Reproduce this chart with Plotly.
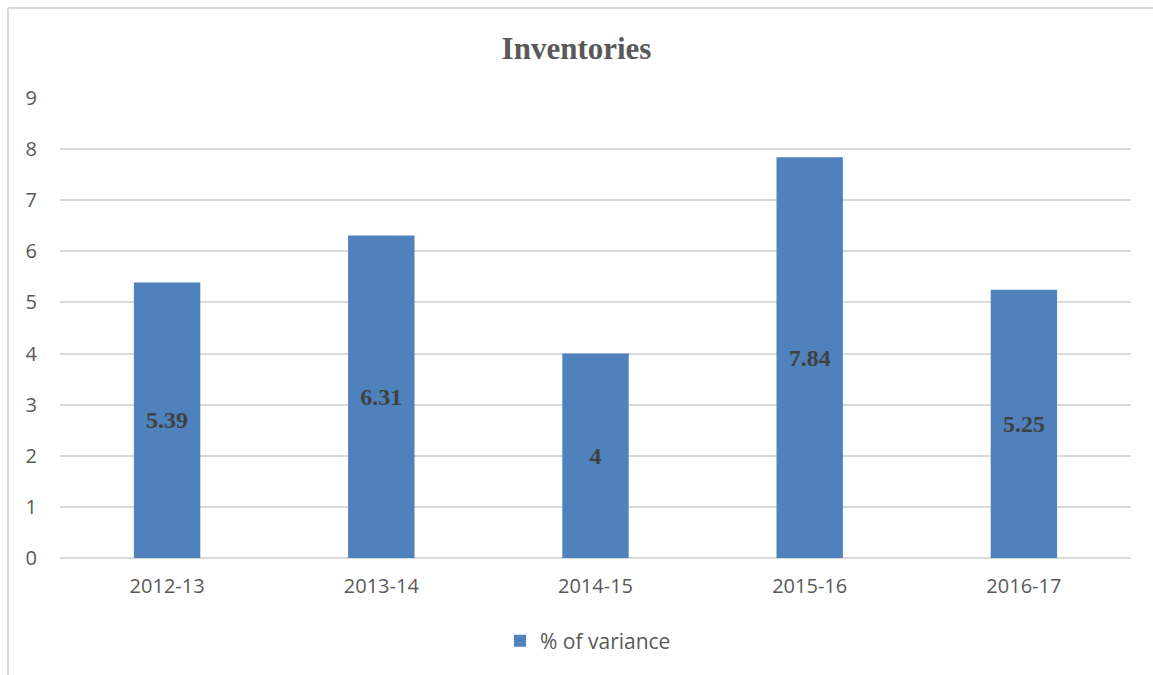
import plotly.graph_objects as go

years = ["2012-13", "2013-14", "2014-15", "2015-16", "2016-17"]
variance = [5.39, 6.31, 4, 7.84, 5.25]
y_ticks = [0, 1, 2, 3, 4, 5, 6, 7, 8, 9]

W, H = 1153, 675
L, R, T, B = 60, 22, 98, 117
pw, ph = W - L - R, H - T - B

def px_x(x):
    return (x - L) / pw

def px_y(y):
    return (H - B - y) / ph

fig = go.Figure()
fig.add_trace(go.Bar(
    x=years, y=variance, name="% of variance",
    marker=dict(color="#4F81BD", line=dict(width=0)),
    text=[f"{v:g}" for v in variance],
    textposition="inside", insidetextanchor="middle",
    textfont=dict(family="Liberation Serif", size=24, color="#404040"),
    texttemplate="<b>%{text}</b>",
    textangle=0,
))

grey = "#D9D9D9"
tick_font = dict(family="Open Sans", size=20, color="#595959")
fig.update_layout(
    width=W, height=H,
    margin=dict(l=L, r=R, t=T, b=B),
    paper_bgcolor="white", plot_bgcolor="white",
    bargap=0.69,
    showlegend=True,
    title=dict(text="<b>Inventories</b>", x=0.5, xanchor="center",
               y=1 - 48 / H, yanchor="middle", yref="container",
               font=dict(family="Liberation Serif", size=31, color="#595959")),
    legend=dict(orientation="h", x=px_x(588), xanchor="center",
                y=px_y(641), yanchor="middle",
                font=dict(family="Open Sans", size=21, color="#595959")),
    xaxis=dict(showgrid=False, showline=False, ticks="",
               ticklabelstandoff=14, tickfont=tick_font),
    yaxis=dict(range=[0, 9], tickvals=y_ticks, showgrid=True, gridcolor=grey,
               gridwidth=2, zeroline=True, zerolinecolor=grey, zerolinewidth=2,
               showline=False, ticks="", ticklabelstandoff=22,
               tickfont=tick_font),
    shapes=[
        dict(type="line", xref="paper", yref="paper",
             x0=px_x(8), x1=px_x(W + 5), y0=px_y(8), y1=px_y(8),
             line=dict(color=grey, width=2)),
        dict(type="line", xref="paper", yref="paper",
             x0=px_x(8), x1=px_x(8), y0=px_y(8), y1=px_y(H + 5),
             line=dict(color=grey, width=2)),
    ],
)

fig.write_html("out.html")
